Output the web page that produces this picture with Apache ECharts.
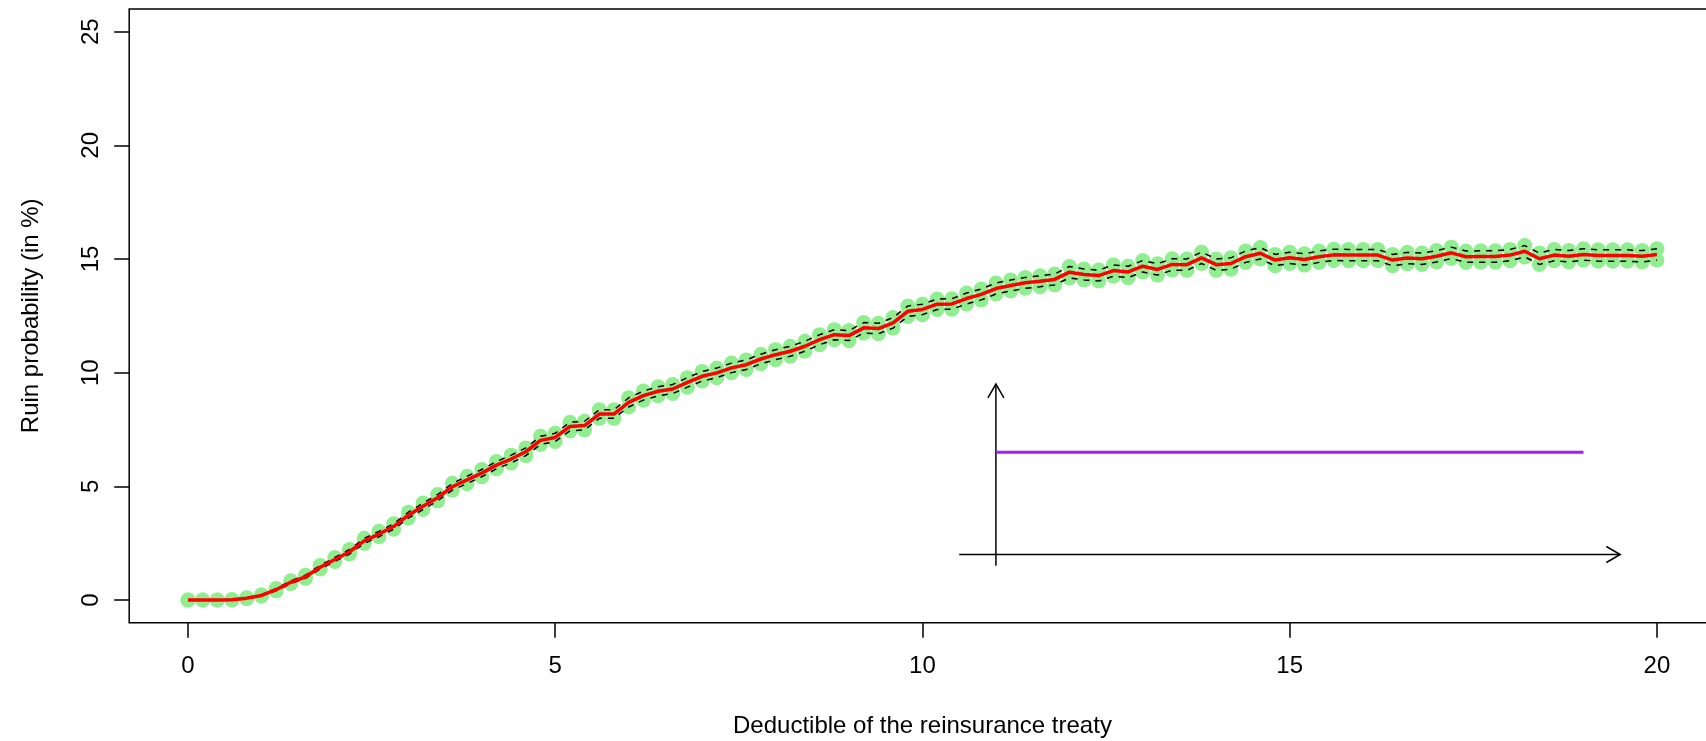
<!DOCTYPE html>
<html>
<head>
<meta charset="utf-8">
<script src="https://cdn.jsdelivr.net/npm/echarts@6/dist/echarts.min.js"></script>
<style>
html,body{margin:0;padding:0;background:#fff;overflow:hidden;width:1706px;height:741px;}
#chart{width:1730px;height:741px;}
</style>
</head>
<body>
<div id="chart"></div>
<script>
// Deductible grid (x)
var deductible = [0,0.2,0.4,0.6,0.8,1,1.2,1.4,1.6,1.8,2,2.2,2.4,2.6,2.8,3,3.2,3.4,3.6,3.8,4,4.2,4.4,4.6,4.8,5,5.2,5.4,5.6,5.8,6,6.2,6.4,6.6,6.8,7,7.2,7.4,7.6,7.8,8,8.2,8.4,8.6,8.8,9,9.2,9.4,9.6,9.8,10,10.2,10.4,10.6,10.8,11,11.2,11.4,11.6,11.8,12,12.2,12.4,12.6,12.8,13,13.2,13.4,13.6,13.8,14,14.2,14.4,14.6,14.8,15,15.2,15.4,15.6,15.8,16,16.2,16.4,16.6,16.8,17,17.2,17.4,17.6,17.8,18,18.2,18.4,18.6,18.8,19,19.2,19.4,19.6,19.8,20];
// Estimated ruin probability (red line)
var ruinEstimate = [0,0,0,0.01,0.08,0.2,0.45,0.78,1.02,1.44,1.78,2.12,2.6,2.9,3.23,3.73,4.12,4.5,4.98,5.28,5.58,5.93,6.2,6.52,7.02,7.15,7.63,7.67,8.18,8.18,8.69,8.99,9.18,9.28,9.57,9.84,9.99,10.21,10.35,10.6,10.79,10.94,11.16,11.45,11.67,11.63,11.97,11.94,12.19,12.7,12.78,13.01,13.02,13.26,13.44,13.7,13.83,13.95,14.02,14.1,14.42,14.32,14.27,14.49,14.43,14.68,14.54,14.76,14.75,15.05,14.75,14.8,15.1,15.25,14.95,15.05,14.98,15.1,15.18,15.17,15.17,15.17,14.95,15.04,15.01,15.12,15.27,15.1,15.11,15.11,15.17,15.34,15.01,15.17,15.12,15.2,15.15,15.15,15.15,15.12,15.2];
// Lower bound (dashed + green points)
var ruinLower = [0,0,0,0,0.06,0.17,0.4,0.72,0.95,1.36,1.69,2.02,2.49,2.78,3.11,3.6,3.98,4.36,4.83,5.12,5.42,5.77,6.03,6.35,6.84,6.97,7.44,7.48,7.99,7.99,8.49,8.79,8.98,9.08,9.36,9.63,9.78,10,10.14,10.39,10.57,10.72,10.94,11.23,11.45,11.41,11.74,11.71,11.96,12.47,12.55,12.78,12.79,13.02,13.2,13.46,13.59,13.71,13.78,13.86,14.17,14.08,14.03,14.24,14.18,14.43,14.29,14.51,14.5,14.8,14.5,14.55,14.85,15,14.7,14.8,14.73,14.85,14.93,14.92,14.92,14.92,14.7,14.79,14.76,14.87,15.02,14.85,14.86,14.86,14.92,15.09,14.76,14.92,14.87,14.95,14.9,14.9,14.9,14.87,14.95];
// Upper bound (dashed + green points)
var ruinUpper = [0,0,0,0.02,0.1,0.23,0.5,0.84,1.09,1.52,1.87,2.22,2.71,3.02,3.35,3.86,4.26,4.64,5.13,5.44,5.74,6.09,6.37,6.69,7.2,7.33,7.82,7.86,8.37,8.37,8.89,9.19,9.38,9.48,9.78,10.05,10.2,10.42,10.56,10.81,11.01,11.16,11.38,11.67,11.89,11.85,12.2,12.17,12.42,12.93,13.01,13.24,13.25,13.5,13.68,13.94,14.07,14.19,14.26,14.34,14.67,14.56,14.51,14.74,14.68,14.93,14.79,15.01,15,15.3,15,15.05,15.35,15.5,15.2,15.3,15.23,15.35,15.43,15.42,15.42,15.42,15.2,15.29,15.26,15.37,15.52,15.35,15.36,15.36,15.42,15.59,15.26,15.42,15.37,15.45,15.4,15.4,15.4,15.37,15.45];
// Tick labels
var xTicks = [0, 5, 10, 15, 20];
var yTicks = [0, 5, 10, 15, 20, 25];
// Inset sketch: arrows (x0, y0, x1, y1) and purple level segment
var arrowX0 = [10.5, 11];
var arrowY0 = [2, 1.5];
var arrowX1 = [19.5, 11];
var arrowY1 = [2, 9.5];
var levelX = [11, 19];
var levelY = [6.5, 6.5];

var FONT = "'Liberation Sans', Arial, Helvetica, sans-serif";

function zip(a, b) { var out = []; for (var i = 0; i < a.length; i++) out.push([a[i], b[i]]); return out; }
var arrowData = [];
for (var i = 0; i < arrowX0.length; i++) arrowData.push([arrowX0[i], arrowY0[i], arrowX1[i], arrowY1[i]]);

var chart = echarts.init(document.getElementById('chart'), null, {renderer: 'canvas'});
chart.setOption({
  animation: false,
  backgroundColor: '#ffffff',
  grid: {
    left: 129.2, top: 8.9, width: 1586.5, height: 613.8,
    outerBoundsMode: 'none', containLabel: false,
    show: true, borderColor: '#000', borderWidth: 1.5, backgroundColor: 'transparent'
  },
  xAxis: {
    type: 'value', min: -0.8, max: 20.8,
    name: 'Deductible of the reinsurance treaty',
    nameLocation: 'middle', nameGap: 92,
    nameTextStyle: {fontFamily: FONT, fontSize: 24, color: '#000'},
    axisLine: {show: false, onZero: false},
    axisTick: {show: true, length: 15, customValues: xTicks, lineStyle: {color: '#000', width: 1.5}},
    axisLabel: {customValues: xTicks, margin: 32, fontFamily: FONT, fontSize: 24, color: '#000'},
    splitLine: {show: false}
  },
  yAxis: {
    type: 'value', min: -1, max: 26,
    name: 'Ruin probability (in %)',
    nameLocation: 'middle', nameGap: 86,
    nameTextStyle: {fontFamily: FONT, fontSize: 24, color: '#000'},
    axisLine: {show: false, onZero: false},
    axisTick: {show: true, length: 15, customValues: yTicks, lineStyle: {color: '#000', width: 1.5}},
    axisLabel: {customValues: yTicks, rotate: 90, margin: 26, fontFamily: FONT, fontSize: 24, color: '#000'},
    splitLine: {show: false}
  },
  series: [
    {type: 'scatter', data: zip(deductible, ruinLower), symbol: 'circle', symbolSize: 15,
     itemStyle: {color: '#90EE90', opacity: 1}, silent: true},
    {type: 'scatter', data: zip(deductible, ruinUpper), symbol: 'circle', symbolSize: 15,
     itemStyle: {color: '#90EE90', opacity: 1}, silent: true},
    {type: 'line', data: zip(deductible, ruinLower), symbol: 'none',
     lineStyle: {color: '#000', width: 1.5, type: [6, 6]}, silent: true},
    {type: 'line', data: zip(deductible, ruinUpper), symbol: 'none',
     lineStyle: {color: '#000', width: 1.5, type: [6, 6]}, silent: true},
    {type: 'line', data: zip(deductible, ruinEstimate), symbol: 'none',
     lineStyle: {color: '#FF0000', width: 3.5}, silent: true},
    {type: 'custom', data: arrowData, encode: {x: [0, 2], y: [1, 3]}, silent: true,
     renderItem: function (params, api) {
       var p0 = api.coord([api.value(0), api.value(1)]);
       var p1 = api.coord([api.value(2), api.value(3)]);
       var ang = Math.atan2(p1[1] - p0[1], p1[0] - p0[0]);
       var L = 16, a = Math.PI / 6;
       var h1 = [p1[0] - L * Math.cos(ang - a), p1[1] - L * Math.sin(ang - a)];
       var h2 = [p1[0] - L * Math.cos(ang + a), p1[1] - L * Math.sin(ang + a)];
       return {type: 'group', children: [
         {type: 'line', shape: {x1: p0[0], y1: p0[1], x2: p1[0], y2: p1[1]}, style: {stroke: '#000', lineWidth: 1.5}},
         {type: 'polyline', shape: {points: [h1, p1, h2]}, style: {stroke: '#000', lineWidth: 1.5, fill: null}}
       ]};
     }},
    {type: 'line', data: zip(levelX, levelY), symbol: 'none',
     lineStyle: {color: '#A020F0', width: 3}, silent: true}
  ]
});
</script>
</body>
</html>
